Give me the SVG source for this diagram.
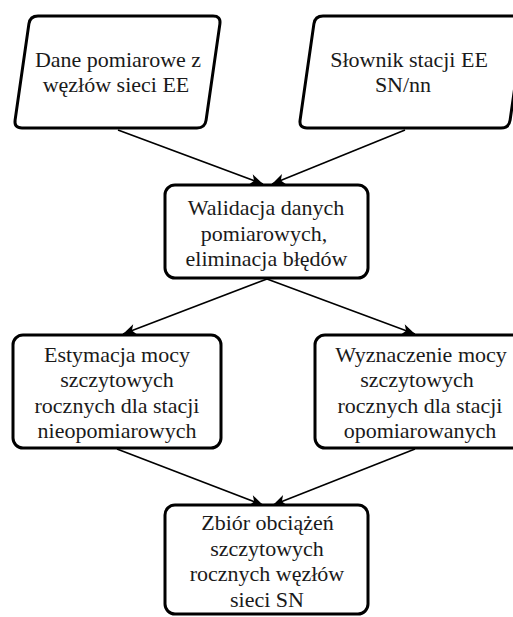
<svg xmlns="http://www.w3.org/2000/svg" width="513" height="617" viewBox="0 0 513 617">
  <rect width="513" height="617" fill="#ffffff"/>

  <!-- connectors: straight lines with filled notched arrowheads at the target -->
  <g id="connectors">
    <g fill="none" stroke="#000000" stroke-width="1.6">
      <line x1="118" y1="130" x2="263" y2="184"/>
      <line x1="405" y1="130" x2="272" y2="184"/>
      <line x1="267" y1="279" x2="123" y2="334"/>
      <line x1="267" y1="279" x2="415" y2="334"/>
      <line x1="117" y1="449" x2="263" y2="505"/>
      <line x1="415" y1="449" x2="273" y2="505"/>
    </g>
    <g fill="#000000">
      <path d="M0,0 L-13,-5.5 L-9.5,0 L-13,5.5 Z" transform="translate(263,184) rotate(20.4)"/>
      <path d="M0,0 L-13,-5.5 L-9.5,0 L-13,5.5 Z" transform="translate(272,184) rotate(157.9)"/>
      <path d="M0,0 L-13,-5.5 L-9.5,0 L-13,5.5 Z" transform="translate(123,334) rotate(159.1)"/>
      <path d="M0,0 L-13,-5.5 L-9.5,0 L-13,5.5 Z" transform="translate(415,334) rotate(20.4)"/>
      <path d="M0,0 L-13,-5.5 L-9.5,0 L-13,5.5 Z" transform="translate(263,505) rotate(21)"/>
      <path d="M0,0 L-13,-5.5 L-9.5,0 L-13,5.5 Z" transform="translate(273,505) rotate(158.5)"/>
    </g>
  </g>

  <!-- input data (parallelogram) -->
  <g id="dane-pomiarowe">
    <path d="M38,16 H213 Q221,16 219.9,23.9 L206.1,120.1 Q205,128 197,128 H22 Q14,128 15.1,120.1 L28.9,23.9 Q30,16 38,16 Z" fill="#ffffff" stroke="#000000" stroke-width="3"/>
    <text x="118" y="67" font-family="Liberation Serif" font-size="22" text-anchor="middle" fill="#1a1a1a">Dane pomiarowe z</text>
    <text x="116" y="92" font-family="Liberation Serif" font-size="22" text-anchor="middle" fill="#1a1a1a">węzłów sieci EE</text>
  </g>

  <!-- station dictionary (parallelogram) -->
  <g id="slownik-stacji">
    <path d="M323,16 H517 Q525,16 523.9,23.9 L510.1,120.1 Q509,128 501,128 H307 Q299,128 300.1,120.1 L313.9,23.9 Q315,16 323,16 Z" fill="#ffffff" stroke="#000000" stroke-width="3"/>
    <text x="409" y="67" font-family="Liberation Serif" font-size="22" text-anchor="middle" fill="#1a1a1a">Słownik stacji EE</text>
    <text x="403" y="92" font-family="Liberation Serif" font-size="22" text-anchor="middle" fill="#1a1a1a">SN/nn</text>
  </g>

  <g id="walidacja">
    <rect x="165" y="185" width="203" height="93" rx="10" fill="#ffffff" stroke="#000000" stroke-width="3"/>
    <text x="266" y="215" font-family="Liberation Serif" font-size="22" text-anchor="middle" fill="#1a1a1a">Walidacja danych</text>
    <text x="264" y="240.5" font-family="Liberation Serif" font-size="22" text-anchor="middle" fill="#1a1a1a">pomiarowych,</text>
    <text x="266.5" y="266" font-family="Liberation Serif" font-size="22" text-anchor="middle" fill="#1a1a1a">eliminacja błędów</text>
  </g>

  <g id="estymacja">
    <rect x="13" y="335" width="208" height="113" rx="10" fill="#ffffff" stroke="#000000" stroke-width="3"/>
    <text x="117" y="362" font-family="Liberation Serif" font-size="22" text-anchor="middle" fill="#1a1a1a">Estymacja mocy</text>
    <text x="117" y="387" font-family="Liberation Serif" font-size="22" text-anchor="middle" fill="#1a1a1a">szczytowych</text>
    <text x="117" y="412.5" font-family="Liberation Serif" font-size="22" text-anchor="middle" fill="#1a1a1a">rocznych dla stacji</text>
    <text x="117" y="437.5" font-family="Liberation Serif" font-size="22" text-anchor="middle" fill="#1a1a1a">nieopomiarowych</text>
  </g>

  <g id="wyznaczenie">
    <rect x="315" y="335" width="210" height="113" rx="10" fill="#ffffff" stroke="#000000" stroke-width="3"/>
    <text x="421" y="362" font-family="Liberation Serif" font-size="22" text-anchor="middle" fill="#1a1a1a">Wyznaczenie mocy</text>
    <text x="417" y="387" font-family="Liberation Serif" font-size="22" text-anchor="middle" fill="#1a1a1a">szczytowych</text>
    <text x="420" y="412.5" font-family="Liberation Serif" font-size="22" text-anchor="middle" fill="#1a1a1a">rocznych dla stacji</text>
    <text x="420" y="437.5" font-family="Liberation Serif" font-size="22" text-anchor="middle" fill="#1a1a1a">opomiarowanych</text>
  </g>

  <g id="zbior">
    <rect x="165" y="505" width="203" height="109" rx="10" fill="#ffffff" stroke="#000000" stroke-width="3"/>
    <text x="267.5" y="530" font-family="Liberation Serif" font-size="22" text-anchor="middle" fill="#1a1a1a">Zbiór obciążeń</text>
    <text x="267" y="555.5" font-family="Liberation Serif" font-size="22" text-anchor="middle" fill="#1a1a1a">szczytowych</text>
    <text x="267" y="581" font-family="Liberation Serif" font-size="22" text-anchor="middle" fill="#1a1a1a">rocznych węzłów</text>
    <text x="267" y="606.5" font-family="Liberation Serif" font-size="22" text-anchor="middle" fill="#1a1a1a">sieci SN</text>
  </g>
</svg>
